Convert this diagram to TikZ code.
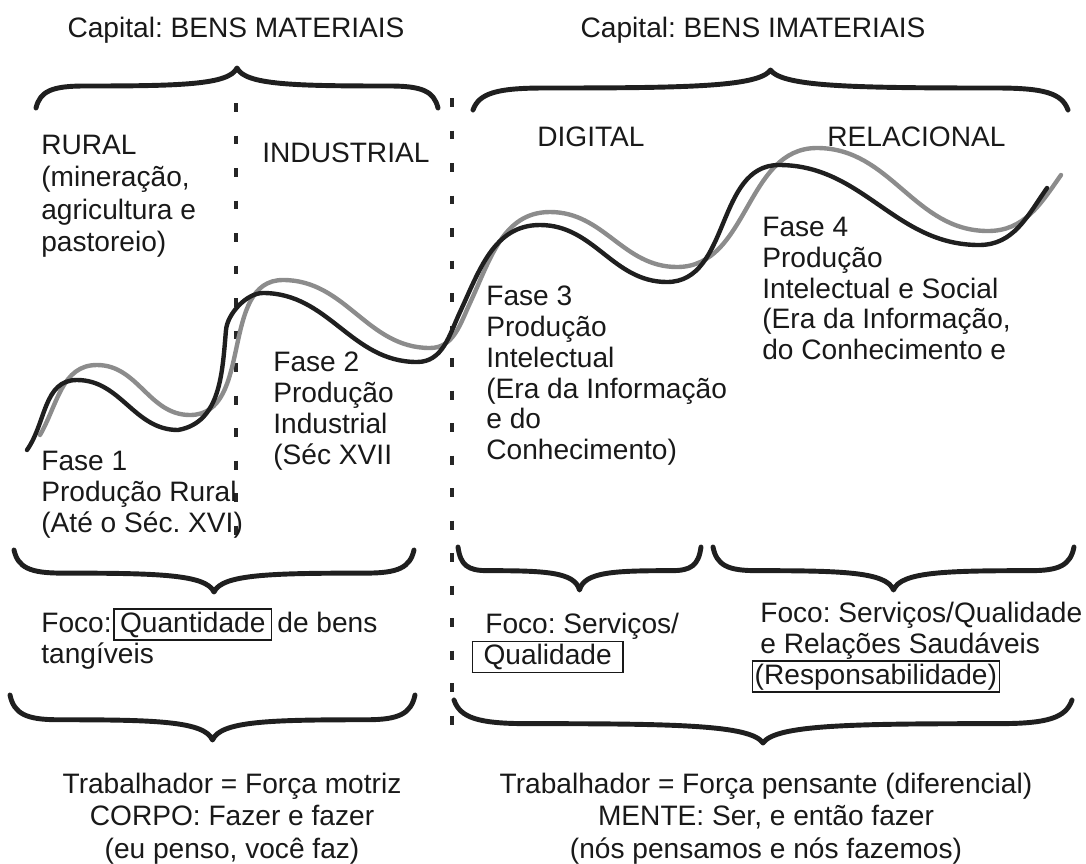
\documentclass[tikz,border=0pt]{standalone}
\usepackage{fontspec}
\setmainfont{Liberation Sans}
\frenchspacing

\newcommand{\framebit}[2][1pt]{{\setlength{\fboxsep}{0pt}\setlength{\fboxrule}{0.8pt}\fbox{\hspace{#1}\rule[-4pt]{0pt}{16.8pt}#2\hspace{#1}}}}

\tikzset{
  brace line/.style={line width=2.8pt, line cap=round, line join=round, draw=black!88},
  divider/.style={line width=2.3pt, draw=black!85, dash pattern=on 5.1pt off 13.4pt},
  wave/.style={line width=2.5pt, line cap=round},
}

% #1 left x, #2 right x, #3 y of both ends, #4 y of the tip
\newcommand{\curly}[4]{%
  \begin{scope}[shift={(#1,#3)}, xscale={(#2-#1)/2}, yscale={#4-#3}]
    \draw[brace line] (0,0) .. controls (0.02,0.42) and (0.08,0.55) .. (0.24,0.55)
      .. controls (0.72,0.55) and (0.96,0.58) .. (1,1)
      .. controls (1.04,0.58) and (1.28,0.55) .. (1.76,0.55)
      .. controls (1.92,0.55) and (1.98,0.42) .. (2,0);
  \end{scope}}

\begin{document}
\begin{tikzpicture}[x=0.02cm, y=-0.02cm,
  txt/.style={font=\fontsize{16}{17.5}\selectfont, text=black!90, align=left, inner sep=0pt, anchor=north west},
  wide/.style={txt, font=\fontsize{16}{18.3}\selectfont},
  head/.style={txt, anchor=north, align=center},
  foot/.style={wide, anchor=north, align=center}]
\path[use as bounding box] (0,0) rectangle (1086,863);

\node[head] (cap-mat) at (236,17) {Capital: BENS MATERIAIS};
\node[head] (cap-imat) at (753,17) {Capital: BENS IMATERIAIS};
\curly{36}{438}{108}{68}
\curly{473}{1068}{110}{70}

\draw[divider] (236,103) -- (236,537);
\draw[divider] (452,98) -- (452,728);

\node[wide] (rural) at (41,135) {RURAL\\(mineração,\\agricultura e\\pastoreio)};
\node[txt] (industrial) at (262,143) {INDUSTRIAL};
\node[txt] (digital) at (537,127) {DIGITAL};
\node[txt] (relacional) at (827,127) {RELACIONAL};

\draw[wave, draw=black!45] (40,435) to[out=60,in=180] (97,365) to[out=0,in=180] (190,415)
  to[out=0,in=180] (283,280) to[out=0,in=180] (430,348) to[out=0,in=245] (470,303)
  to[out=65,in=180] (550,212) to[out=0,in=180] (677,267) to[out=0,in=180] (817,148)
  to[out=0,in=180] (988,231) to[out=0,in=235] (1061,175);
\draw[wave, draw=black!88] (27,450) to[out=55,in=180] (77,380) to[out=0,in=180] (178,430)
  to[out=10,in=-95] (226,330) to[out=85,in=180,looseness=0.8] (263,293)
  to[out=0,in=180] (417,362) to[out=0,in=245] (460,312) to[out=65,in=180] (540,225)
  to[out=0,in=180] (667,282) to[out=0,in=180] (779,165) to[out=0,in=180] (979,245)
  to[out=0,in=235] (1047,188);

\node[txt] (fase1) at (41,451) {Fase 1\\Produção Rural\\(Até o Séc. XVI)};
\node[txt] (fase2) at (273,352) {Fase 2\\Produção\\Industrial\\(Séc XVII};
\node[txt] (fase3) at (486,286) {Fase 3\\Produção\\Intelectual\\(Era da Informação\\e do\\Conhecimento)};
\node[txt] (fase4) at (762,217) {Fase 4\\Produção\\Intelectual e Social\\(Era da Informação,\\do Conhecimento e};

\curly{14}{414}{550}{592}
\curly{458}{701}{547}{590}
\curly{713}{1074}{547}{590}

\node[txt] (foco1) at (41,608) {Foco:\hspace{1pt}\framebit[3pt]{Quantidade}\hspace{3pt}de bens\\tangíveis};
\node[txt] (foco3) at (485,613) {Foco: Serviços/\\\hspace*{-7.8pt}\framebit[6pt]{Qualidade}};
\node[txt] (foco4) at (760,602) {Foco: Serviços/Qualidade\\e Relações Saudáveis\\\hspace*{-5pt}\framebit[1pt]{(Responsabilidade)}};

\curly{10}{415}{695}{740}
\curly{454}{1072}{700}{743}

\node[foot] (corpo) at (232,773) {Trabalhador = Força motriz\\CORPO: Fazer e fazer\\(eu penso, você faz)};
\node[foot] (mente) at (766,773) {Trabalhador = Força pensante (diferencial)\\MENTE: Ser, e então fazer\\(nós pensamos e nós fazemos)};
\end{tikzpicture}
\end{document}
